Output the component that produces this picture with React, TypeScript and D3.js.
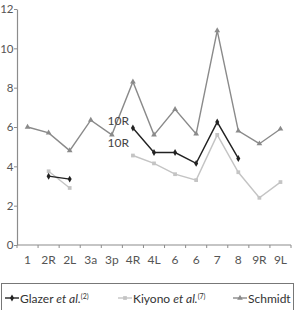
import React, { useEffect, useRef } from "react";
import * as d3 from "d3";

const stations = ["1", "2R", "2L", "3a", "3p", "4R", "4L", "6a", "6b", "7", "8", "9R", "9L"];
const stationLabels = ["1", "2R", "2L", "3a", "3p", "4R", "4L", "6", "6", "7", "8", "9R", "9L"];
const yTicks = [0, 2, 4, 6, 8, 10, 12];

// null = no value for that station
const schmidt = [6.0, 5.7, 4.8, 6.35, 5.6, 8.3, 5.6, 6.9, 5.65, 10.9, 5.8, 5.15, 5.9];
const glazer = [null, 3.5, 3.35, null, null, 5.95, 4.7, 4.7, 4.15, 6.25, 4.4, null, null];
const kiyono = [null, 3.75, 2.9, null, null, 4.55, 4.15, 3.6, 3.3, 5.6, 3.7, 2.4, 3.2];

const FONT = "Lato, 'Open Sans', sans-serif";

const App: React.FC = () => {
  const svgRef = useRef<SVGSVGElement | null>(null);

  useEffect(() => {
    if (!svgRef.current) return;
    const width = 295;
    const height = 310;
    const margin = { top: 9, right: 4, bottom: 65, left: 17 };
    const innerWidth = width - margin.left - margin.right;
    const innerHeight = height - margin.top - margin.bottom;

    d3.select(svgRef.current).selectAll("*").remove();
    const root = d3.select(svgRef.current);
    const svg = root.append("g").attr("transform", `translate(${margin.left},${margin.top})`);

    const xScale = d3.scaleBand<string>().domain(stations).range([0, innerWidth]);
    const yScale = d3.scaleLinear().domain([0, 12]).range([innerHeight, 0]);

    // Y axis
    const yAxis = svg
      .append("g")
      .call(d3.axisLeft(yScale).tickValues(yTicks).tickSize(3).tickSizeOuter(0));
    yAxis.select("path").attr("stroke", "#8c8c8c").attr("stroke-width", 1.2);
    yAxis.selectAll("line").attr("stroke", "#8c8c8c");
    yAxis
      .selectAll("text")
      .attr("fill", "#555")
      .attr("font-family", FONT)
      .attr("font-size", "11.5px")
      .attr("x", -3.5)
      .attr("text-anchor", "end");

    // X axis with ticks at band boundaries
    const xg = svg.append("g").attr("transform", `translate(0,${innerHeight})`);
    xg.append("line")
      .attr("x1", 0)
      .attr("x2", innerWidth)
      .attr("stroke", "#8c8c8c")
      .attr("stroke-width", 1.2);
    const bounds = stations.map((s) => xScale(s) as number).concat([innerWidth]);
    xg.selectAll(".tick")
      .data(bounds)
      .enter()
      .append("line")
      .attr("x1", (d) => d)
      .attr("x2", (d) => d)
      .attr("y1", 0)
      .attr("y2", 3)
      .attr("stroke", "#8c8c8c");
    xg.selectAll(".lbl")
      .data(stations)
      .enter()
      .append("text")
      .attr("x", (d) => (xScale(d) as number) + xScale.bandwidth() / 2)
      .attr("y", 19)
      .attr("text-anchor", "middle")
      .attr("fill", "#555")
      .attr("font-family", FONT)
      .attr("font-size", "12px")
      .text((d, i) => stationLabels[i]);

    const cx = (i: number) => (xScale(stations[i]) as number) + xScale.bandwidth() / 2;

    type Pt = { i: number; v: number | null };
    const line = d3
      .line<Pt>()
      .defined((d) => d.v !== null)
      .x((d) => cx(d.i))
      .y((d) => yScale(d.v as number));

    const series = [
      { values: kiyono, color: "#c4c4c4", marker: "square" },
      { values: schmidt, color: "#8a8a8a", marker: "triangle" },
      { values: glazer, color: "#222222", marker: "diamond" },
    ];

    const symbolFor = (m: string) =>
      m === "square" ? d3.symbolSquare : m === "triangle" ? d3.symbolTriangle : d3.symbolDiamond;

    series.forEach((s) => {
      const pts: Pt[] = s.values.map((v, i) => ({ i, v }));
      svg
        .append("path")
        .datum(pts)
        .attr("fill", "none")
        .attr("stroke", s.color)
        .attr("stroke-width", 1.4)
        .attr("d", line);
      svg
        .selectAll(null)
        .data(pts.filter((p) => p.v !== null))
        .enter()
        .append("path")
        .attr("transform", (d) => `translate(${cx(d.i)},${yScale(d.v as number)})`)
        .attr("d", d3.symbol().type(symbolFor(s.marker)).size(14)())
        .attr("fill", s.color);
    });

    // 10R annotations
    const ann = [
      { y: 6.1, label: "10R" },
      { y: 5.0, label: "10R" },
    ];
    svg
      .selectAll(".ann")
      .data(ann)
      .enter()
      .append("text")
      .attr("x", cx(5) - 4)
      .attr("y", (d) => yScale(d.y))
      .attr("text-anchor", "end")
      .attr("fill", "#444")
      .attr("font-family", FONT)
      .attr("font-size", "12px")
      .text((d) => d.label);

    // Legend
    const leg = root.append("g").attr("transform", "translate(1,283)");
    leg.append("rect")
      .attr("x", 0.5)
      .attr("y", 0.5)
      .attr("width", 292)
      .attr("height", 30)
      .attr("fill", "none")
      .attr("stroke", "#777");

    const legendItems = [
      { x: 4, color: "#222222", marker: "diamond", name: "Glazer ", it: "et al.", sup: "(2)" },
      { x: 117, color: "#c4c4c4", marker: "square", name: "Kiyono ", it: "et al.", sup: "(7)" },
      { x: 232, color: "#8a8a8a", marker: "triangle", name: "Schmidt", it: "", sup: "" },
    ];
    legendItems.forEach((l) => {
      const g = leg.append("g").attr("transform", `translate(${l.x},15)`);
      g.append("line").attr("x1", 0).attr("x2", 14).attr("stroke", l.color).attr("stroke-width", 1.4);
      g.append("path")
        .attr("transform", "translate(7,0)")
        .attr("d", d3.symbol().type(symbolFor(l.marker)).size(14)())
        .attr("fill", l.color);
      const t = g
        .append("text")
        .attr("x", 15)
        .attr("y", 4.5)
        .attr("fill", "#333")
        .attr("font-family", FONT)
        .attr("font-size", "12px");
      t.append("tspan").text(l.name);
      if (l.it) {
        t.append("tspan").attr("font-style", "italic").text(l.it);
        t.append("tspan").attr("font-size", "7px").attr("dy", -4).text(l.sup);
      }
    });
  }, []);

  return (
    <div style={{ position: "absolute", left: 0, top: 0 }}>
      <svg ref={svgRef} width={295} height={310} style={{ display: "block" }} />
    </div>
  );
};

export default App;
